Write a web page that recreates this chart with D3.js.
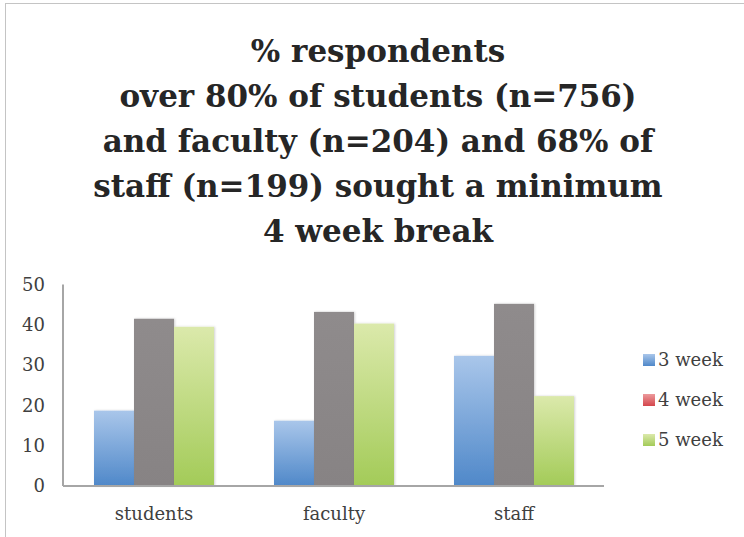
<!DOCTYPE html>
<html>
<head>
<meta charset="utf-8">
<script src="https://cdn.jsdelivr.net/npm/d3@7"></script>
<style>
  html, body { margin: 0; padding: 0; background: #fff; }
  svg { display: block; }
</style>
</head>
<body>
<svg id="chart" width="744" height="537"></svg>
<script>
const titleLines = [
  "% respondents",
  "over 80% of students (n=756)",
  "and faculty (n=204) and 68% of",
  "staff (n=199) sought a minimum",
  "4 week break"
];
const categories = ["students", "faculty", "staff"];
const seriesNames = ["3 week", "4 week", "5 week"];
const week3 = [18.7, 16.2, 32.3];
const week4 = [41.5, 43.2, 45.2];
const week5 = [39.5, 40.3, 22.3];
const yTicks = [0, 10, 20, 30, 40, 50];

const seriesValues = [week3, week4, week5];
const data = categories.map((c, i) => ({
  category: c,
  values: seriesNames.map((s, j) => ({ series: s, value: seriesValues[j][i] }))
}));

const svg = d3.select("#chart");
const defs = svg.append("defs");

function grad(id, top, bottom) {
  const g = defs.append("linearGradient").attr("id", id)
    .attr("x1", 0).attr("y1", 0).attr("x2", 0).attr("y2", 1);
  g.append("stop").attr("offset", "0%").attr("stop-color", top);
  g.append("stop").attr("offset", "100%").attr("stop-color", bottom);
}
grad("gBlue", "#a9c6ea", "#4f88c9");
grad("gGray", "#8f8b8c", "#878384");
grad("gGreen", "#dbe9ab", "#a3cb58");
grad("gRed", "#ec9a9c", "#d4464c");

const f = defs.append("filter").attr("id", "shadow")
  .attr("x", "-10%").attr("y", "-10%").attr("width", "130%").attr("height", "120%");
f.append("feDropShadow").attr("dx", 1).attr("dy", 0).attr("stdDeviation", 1)
  .attr("flood-color", "#000").attr("flood-opacity", 0.18);

const barFill = { "3 week": "url(#gBlue)", "4 week": "url(#gGray)", "5 week": "url(#gGreen)" };
const legendFill = { "3 week": "url(#gBlue)", "4 week": "url(#gRed)", "5 week": "url(#gGreen)" };

// outer border
svg.append("rect")
  .attr("x", 5.5).attr("y", 3.5)
  .attr("width", 800).attr("height", 600)
  .attr("fill", "none").attr("stroke", "#c4c4c4").attr("stroke-width", 1);

// title
svg.append("g").selectAll("text").data(titleLines).join("text")
  .attr("x", 378)
  .attr("y", (d, i) => 62 + i * 45)
  .attr("text-anchor", "middle")
  .attr("font-family", "'DejaVu Serif', serif")
  .attr("font-weight", "bold")
  .attr("font-size", 31)
  .attr("fill", "#262626")
  .text(d => d);

const x0 = d3.scaleBand().domain(categories).range([64, 604])
  .paddingInner(1 / 3).paddingOuter(1 / 6);
const x1 = d3.scaleBand().domain(seriesNames).range([0, x0.bandwidth()]).padding(0);
const y = d3.scaleLinear().domain([0, 50]).range([486, 284.5]);

// bars
const groups = svg.append("g").selectAll("g").data(data).join("g")
  .attr("transform", d => `translate(${x0(d.category)},0)`);
groups.selectAll("rect").data(d => d.values).join("rect")
  .attr("x", d => x1(d.series))
  .attr("y", d => y(d.value))
  .attr("width", x1.bandwidth())
  .attr("height", d => y(0) - y(d.value))
  .attr("fill", d => barFill[d.series])
  .attr("filter", "url(#shadow)");

// y axis
const yAxis = d3.axisLeft(y).tickValues(yTicks).tickSize(0).tickPadding(18);
const gy = svg.append("g").attr("transform", "translate(63,0)").call(yAxis);
gy.select(".domain").attr("stroke", "#a6a6a6").attr("stroke-width", 2)
  .attr("d", `M0,${y(50)}V${y(0)}`);
gy.selectAll("text")
  .attr("font-family", "'DejaVu Serif', serif")
  .attr("font-size", 18)
  .attr("fill", "#404040");

// x axis
const xAxis = d3.axisBottom(x0).tickSize(0).tickPadding(21);
const gx = svg.append("g").attr("transform", `translate(0,${y(0)})`).call(xAxis);
gx.select(".domain").attr("stroke", "#a6a6a6").attr("stroke-width", 2)
  .attr("d", "M63,0H604");
gx.selectAll("text")
  .attr("font-family", "'DejaVu Serif', serif")
  .attr("font-size", 18)
  .attr("fill", "#404040");

// legend
const legend = svg.append("g").selectAll("g").data(seriesNames).join("g")
  .attr("transform", (d, i) => `translate(643,${360 + i * 40})`);
legend.append("rect")
  .attr("x", 0).attr("y", -6).attr("width", 12).attr("height", 12)
  .attr("fill", d => legendFill[d]);
legend.append("text")
  .attr("x", 15).attr("y", 0).attr("dy", "0.35em")
  .attr("font-family", "'DejaVu Serif', serif")
  .attr("font-size", 18)
  .attr("fill", "#404040")
  .text(d => d);
</script>
</body>
</html>
